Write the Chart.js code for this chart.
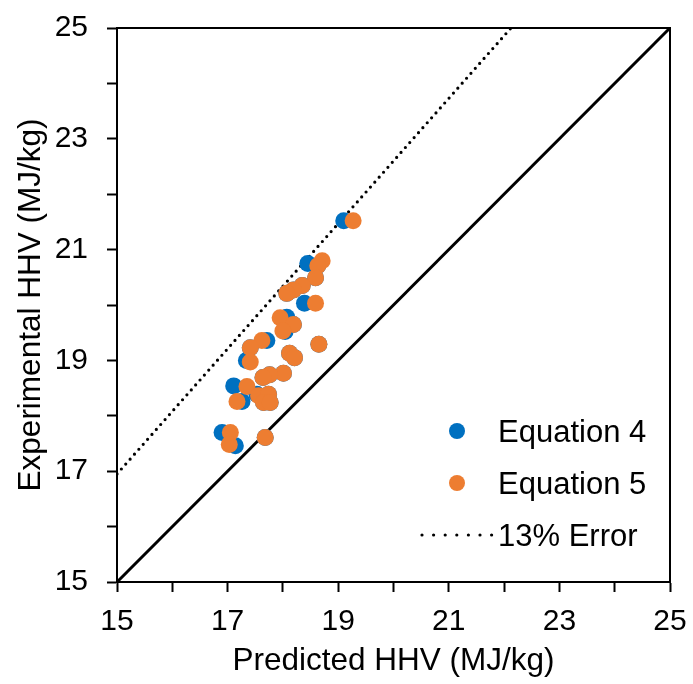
<!DOCTYPE html>
<html>
<head>
<meta charset="utf-8">
<script src="https://cdn.jsdelivr.net/npm/chart.js@4.4.1/dist/chart.umd.min.js"></script>
<style>
  html, body { margin: 0; padding: 0; background: #fff; }
  #wrap { width: 693px; height: 684px; }
</style>
</head>
<body>
<div id="wrap"><canvas id="c" width="693" height="684"></canvas></div>
<script>
// Equation 4 (predicted, experimental)
const eq4Predicted = [19.10, 18.45, 18.39, 18.07, 18.04, 17.71, 17.34, 17.11, 17.53, 17.26, 16.90, 17.14,
  18.63, 18.59, 18.35, 18.19, 18.07, 18.19, 18.65, 17.41, 18.12, 18.21, 18.01, 17.76, 17.64, 17.74, 17.65, 17.77, 17.68];
const eq4Experimental = [21.52, 20.75, 20.03, 19.78, 19.52, 19.36, 19.00, 18.54, 18.39, 18.26, 17.70, 17.46,
  20.71, 20.49, 20.35, 20.27, 20.21, 19.65, 19.29, 19.23, 19.13, 19.05, 18.77, 18.74, 18.69, 18.39, 18.24, 18.24, 17.61];
// Equation 5 (predicted, experimental)
const eq5Predicted = [19.27, 18.71, 18.63, 18.59, 18.35, 18.19, 18.07, 18.59, 17.95, 18.19, 18.00, 17.62, 18.65, 17.41,
  18.12, 18.21, 17.41, 18.01, 17.76, 17.64, 17.35, 17.56, 17.74, 17.65, 17.77, 17.17, 17.05, 17.03, 17.68];
const eq5Experimental = [21.52, 20.80, 20.71, 20.49, 20.35, 20.27, 20.21, 20.03, 19.77, 19.65, 19.53, 19.36, 19.29, 19.23,
  19.13, 19.05, 18.97, 18.77, 18.74, 18.69, 18.53, 18.36, 18.39, 18.24, 18.24, 18.26, 17.70, 17.48, 17.61];
// reference lines
const parityX = [15, 25];
const parityY = [15, 25];
const errorFactor = 1.13;
const errorX = [15, 25 / errorFactor];
const errorY = errorX.map(v => v * errorFactor);
// axis
const axisMin = 15, axisMax = 25;
const tickLabels = [15, 17, 19, 21, 23, 25];
const legendLabels = ['Equation 4', 'Equation 5', '13% Error'];
const xTitle = 'Predicted HHV (MJ/kg)';
const yTitle = 'Experimental HHV (MJ/kg)';

const BLUE = '#0070C0', ORANGE = '#ED7D31';
const FONT = '"Liberation Sans", Arial, sans-serif';

const pts = (xs, ys) => xs.map((x, i) => ({ x: x, y: ys[i] }));

const framePlugin = {
  id: 'frame',
  afterDatasetsDraw(chart) {
    const { ctx, chartArea: a } = chart;
    ctx.save();
    ctx.strokeStyle = '#000';
    ctx.lineWidth = 2;
    ctx.beginPath();
    ctx.moveTo(a.left, a.top); ctx.lineTo(a.right, a.top); ctx.lineTo(a.right, a.bottom);
    ctx.stroke();
    ctx.restore();
  },
  afterDraw(chart) {
    const { ctx } = chart;
    ctx.save();
    ctx.font = '31px ' + FONT;
    ctx.fillStyle = '#000';
    ctx.textBaseline = 'middle';
    ctx.textAlign = 'left';
    // Equation 4
    ctx.fillStyle = BLUE;
    ctx.beginPath(); ctx.arc(457, 431, 8, 0, Math.PI * 2); ctx.fill();
    ctx.fillStyle = '#000';
    ctx.fillText(legendLabels[0], 498, 433);
    // Equation 5
    ctx.fillStyle = ORANGE;
    ctx.beginPath(); ctx.arc(457, 483, 8, 0, Math.PI * 2); ctx.fill();
    ctx.fillStyle = '#000';
    ctx.fillText(legendLabels[1], 498, 485);
    // 13% Error
    ctx.strokeStyle = '#000';
    ctx.lineWidth = 3.2;
    ctx.lineCap = 'round';
    ctx.setLineDash([0, 11.6]);
    ctx.beginPath(); ctx.moveTo(422, 535); ctx.lineTo(492, 535); ctx.stroke();
    ctx.setLineDash([]);
    ctx.fillText(legendLabels[2], 498, 537);
    ctx.restore();
  }
};

const tickCb = function (v) {
  const r = Math.round(v);
  return tickLabels.includes(r) ? String(r) : '';
};

new Chart(document.getElementById('c'), {
  type: 'scatter',
  data: {
    datasets: [
      { label: legendLabels[1], data: pts(eq5Predicted, eq5Experimental), backgroundColor: ORANGE, borderColor: ORANGE,
        pointRadius: 8.5, pointBorderWidth: 0, order: 0 },
      { label: legendLabels[0], data: pts(eq4Predicted, eq4Experimental), backgroundColor: BLUE, borderColor: BLUE,
        pointRadius: 8.5, pointBorderWidth: 0, order: 1 },
      { label: 'parity', type: 'line', data: pts(parityX, parityY), borderColor: '#000', borderWidth: 3,
        pointRadius: 0, fill: false, order: 2 },
      { label: legendLabels[2], type: 'line', data: pts(errorX, errorY), borderColor: '#000', borderWidth: 3.2,
        borderDash: [0, 6.6], borderCapStyle: 'round', pointRadius: 0, fill: false, order: 3 }
    ]
  },
  options: {
    responsive: false,
    animation: false,
    devicePixelRatio: 1,
    layout: { padding: { top: 28, right: 23, left: 0, bottom: 0 } },
    plugins: { legend: { display: false }, tooltip: { enabled: false } },
    scales: {
      x: {
        type: 'linear', min: axisMin, max: axisMax,
        afterFit(s) { s.height = 102; s.paddingLeft = 0; s.paddingRight = 0; },
        ticks: { stepSize: 1, autoSkip: false, maxRotation: 0, color: '#000', padding: 12,
          font: { family: FONT, size: 30 }, callback: tickCb },
        grid: { drawOnChartArea: false, drawTicks: true, tickLength: 10, tickWidth: 2, tickColor: '#000' },
        border: { display: true, color: '#000', width: 2 },
        title: { display: true, text: xTitle, color: '#000', font: { family: FONT, size: 31.5 }, padding: { top: 0, bottom: 4 } }
      },
      y: {
        type: 'linear', min: axisMin, max: axisMax,
        afterFit(s) { s.width = 117; s.paddingTop = 0; s.paddingBottom = 0; },
        ticks: { stepSize: 1, autoSkip: false, color: '#000', padding: 19,
          font: { family: FONT, size: 30 }, callback: tickCb },
        grid: { drawOnChartArea: false, drawTicks: true, tickLength: 10, tickWidth: 2, tickColor: '#000' },
        border: { display: true, color: '#000', width: 2 },
        title: { display: true, text: yTitle, color: '#000', font: { family: FONT, size: 31.5 }, padding: { top: 12, bottom: 0 } }
      }
    }
  },
  plugins: [framePlugin]
});
</script>
</body>
</html>
